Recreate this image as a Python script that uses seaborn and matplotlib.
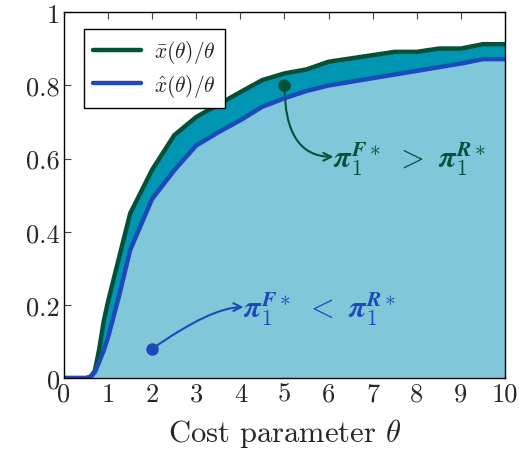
import pandas as pd
import seaborn as sns
import matplotlib
matplotlib.use("Agg")
import matplotlib.pyplot as plt
from matplotlib.patches import FancyArrowPatch

# values
theta = [0, 0.5, 0.6, 0.7, 0.8, 0.9, 1.0, 1.25, 1.5, 2, 2.5, 3, 3.5, 4, 4.5,
         5, 5.5, 6, 6.5, 7, 7.5, 8, 8.5, 9, 9.5, 10]
x_bar = [0, 0, 0.003, 0.02, 0.08, 0.155, 0.21, 0.33, 0.45, 0.57, 0.664, 0.714,
         0.748, 0.782, 0.815, 0.833, 0.844, 0.865, 0.874, 0.883, 0.892, 0.892,
         0.901, 0.901, 0.913, 0.913]
x_hat = [0, 0, 0.003, 0.016, 0.045, 0.075, 0.112, 0.225, 0.35, 0.49, 0.568,
         0.636, 0.672, 0.705, 0.742, 0.765, 0.785, 0.80, 0.81, 0.82, 0.83, 0.84,
         0.85, 0.86, 0.872, 0.872]
xticks = list(range(0, 11))
yticks = [0, 0.2, 0.4, 0.6, 0.8, 1.0]
ytick_labels = ["0", "0.2", "0.4", "0.6", "0.8", "1"]

df = pd.DataFrame({"theta": theta, "x_bar": x_bar, "x_hat": x_hat})

green = "#00533a"
blue = "#1f48b8"
teal = "#0095b3"
light = "#80c8d9"

sns.set_style("ticks")
plt.rcParams["font.family"] = ["cmr10", "DejaVu Serif"]
plt.rcParams["mathtext.fontset"] = "cm"
plt.rcParams["axes.formatter.use_mathtext"] = True

fig = plt.figure(figsize=(5.19, 4.6), dpi=100)
ax = fig.add_axes([0.1233, 0.176, 0.8497, 0.795])

ax.fill_between(df["theta"], 0, df["x_hat"], color=light, lw=0)
ax.fill_between(df["theta"], df["x_hat"], df["x_bar"], color=teal, lw=0)
sns.lineplot(data=df, x="theta", y="x_bar", ax=ax, color=green, lw=3.2,
             label=r"$\bar{x}(\theta)/\theta$")
sns.lineplot(data=df, x="theta", y="x_hat", ax=ax, color=blue, lw=3.2,
             label=r"$\hat{x}(\theta)/\theta$")

ax.set_xlim(0, 10)
ax.set_ylim(0, 1)
ax.set_xticks(xticks)
ax.set_xticklabels([str(t) for t in xticks])
ax.set_yticks(yticks)
ax.set_yticklabels(ytick_labels)
ax.tick_params(direction="in", top=True, right=True, length=5, width=0.8,
               color="#444444", labelsize=19, pad=3)
for s in ax.spines.values():
    s.set_linewidth(1.0)
    s.set_color("black")
ax.set_xlabel(r"Cost parameter $\theta$", fontsize=22, labelpad=7)
ax.set_ylabel("")

leg = ax.legend(loc="upper left", fontsize=15.5, frameon=True, fancybox=False,
                edgecolor="black", framealpha=1, handlelength=2.2,
                borderpad=0.45, labelspacing=0.3, handletextpad=0.6,
                bbox_to_anchor=(0.02, 0.985))
leg.get_frame().set_linewidth(1.0)

# annotations
ax.plot([5], [0.8], "o", color=green, ms=8)
ax.plot([2], [0.08], "o", color=blue, ms=8)
ax.add_patch(FancyArrowPatch((5, 0.8), (6.11, 0.605), arrowstyle="->",
                             connectionstyle="angle3,angleA=-90,angleB=0",
                             color=green, lw=1.5, mutation_scale=14,
                             shrinkA=0, shrinkB=0))
ax.add_patch(FancyArrowPatch((2, 0.08), (4.07, 0.194), arrowstyle="->",
                             connectionstyle="angle3,angleA=35,angleB=0",
                             color=blue, lw=1.5, mutation_scale=14,
                             shrinkA=0, shrinkB=0))
ax.text(6.11, 0.6,
        r"$\boldsymbol{\pi}_{\mathbf{1}}^{\boldsymbol{F*}}\ >\ \boldsymbol{\pi}_{\mathbf{1}}^{\boldsymbol{R*}}$",
        color=green, fontsize=22, ha="left", va="center")
ax.text(4.07, 0.19,
        r"$\boldsymbol{\pi}_{\mathbf{1}}^{\boldsymbol{F*}}\ <\ \boldsymbol{\pi}_{\mathbf{1}}^{\boldsymbol{R*}}$",
        color=blue, fontsize=22, ha="left", va="center")

plt.savefig("out.png", dpi=100)
